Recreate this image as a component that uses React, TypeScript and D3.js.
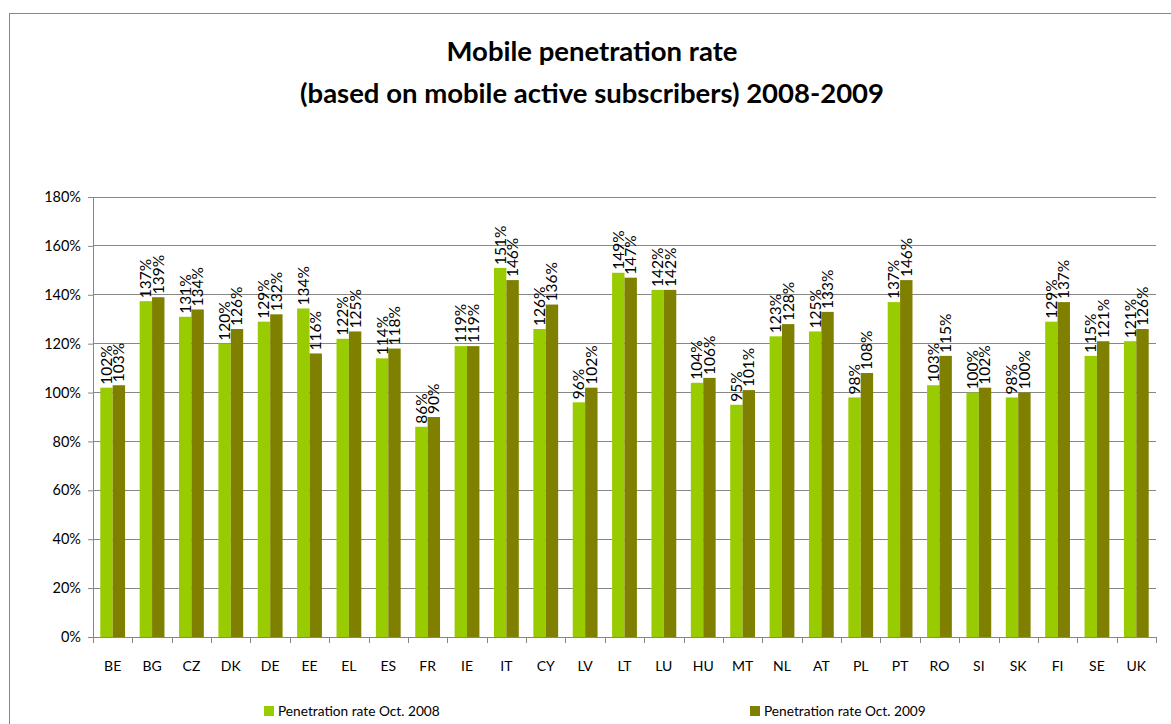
import React, { useEffect, useRef } from 'react'
import * as d3 from 'd3'

const countries: string[] = ['BE', 'BG', 'CZ', 'DK', 'DE', 'EE', 'EL', 'ES', 'FR', 'IE', 'IT', 'CY', 'LV', 'LT', 'LU', 'HU', 'MT', 'NL', 'AT', 'PL', 'PT', 'RO', 'SI', 'SK', 'FI', 'SE', 'UK']
const rate2008: number[] = [102, 137.4, 131, 120, 129, 134.4, 122, 114, 86, 119, 151, 126, 96, 149, 142, 104, 95, 123, 125, 98, 137, 103, 100, 98, 129, 115, 121]
const rate2009: number[] = [103, 139, 134, 126, 132, 116, 125, 118, 90, 119, 146, 136, 102, 147, 142, 106, 101, 128, 133, 108, 146, 115, 102, 100, 137, 121, 126]
const seriesNames: string[] = ['Penetration rate Oct. 2008', 'Penetration rate Oct. 2009']
const yTicks: number[] = [0, 20, 40, 60, 80, 100, 120, 140, 160, 180]

const colors = ['#99cc00', '#808000']
const font = 'Lato, "Noto Sans", sans-serif'

const W = 1171
const H = 724
const margin = { top: 197, left: 93, right: 15, bottom: 87 }

export default function App() {
    const ref = useRef<SVGSVGElement>(null)

    useEffect(() => {
        const svg = d3.select(ref.current)
        svg.selectAll('*').remove()

        const width = W - margin.left - margin.right
        const height = H - margin.top - margin.bottom

        // frame
        svg.append('rect')
            .attr('x', 9.5).attr('y', 13.5)
            .attr('width', W).attr('height', H)
            .attr('fill', 'white').attr('stroke', '#868686')

        // title
        const title = svg.append('text')
            .attr('x', 592).attr('text-anchor', 'middle')
            .attr('font-family', font).attr('font-weight', 'bold')
            .attr('font-size', 27.5).attr('fill', '#000')
        title.append('tspan').attr('x', 592).attr('y', 61).text('Mobile penetration rate')
        title.append('tspan').attr('x', 592).attr('y', 103).text('(based on mobile active subscribers) 2008-2009')

        const g = svg.append('g').attr('transform', `translate(${margin.left},${margin.top})`)

        const x = d3.scaleBand<string>().domain(countries).range([0, width])
        const inner = d3.scaleBand<number>().domain([0, 1])
            .range([x.bandwidth() * 0.185, x.bandwidth() * 0.815])
        const y = d3.scaleLinear().domain([0, 180]).range([height, 0])

        // gridlines
        g.selectAll('.grid').data(yTicks.filter(t => t > 0)).enter().append('line')
            .attr('x1', 0).attr('x2', width)
            .attr('y1', d => y(d)).attr('y2', d => y(d))
            .attr('stroke', '#868686').attr('stroke-width', 1)
            .attr('shape-rendering', 'crispEdges')

        // y axis
        const yAxis = g.append('g')
            .call(d3.axisLeft(y).tickValues(yTicks).tickFormat(d => `${d}%`).tickSize(5).tickPadding(7))
        yAxis.select('.domain').attr('stroke', '#868686')
        yAxis.selectAll('line').attr('stroke', '#868686')
        yAxis.selectAll('text').attr('font-family', font).attr('font-size', 14.5).attr('fill', '#000')

        // bars
        const data = countries.map((c, i) => ({ c, v: [rate2008[i], rate2009[i]] }))
        const groups = g.selectAll('.grp').data(data).enter().append('g')
            .attr('transform', d => `translate(${x(d.c)},0)`)

        groups.selectAll('rect').data(d => d.v.map((v, s) => ({ v, s }))).enter().append('rect')
            .attr('x', d => inner(d.s)!)
            .attr('width', inner.bandwidth())
            .attr('y', d => y(d.v))
            .attr('height', d => height - y(d.v))
            .attr('fill', d => colors[d.s])

        // data labels
        groups.selectAll('text').data(d => d.v.map((v, s) => ({ v, s }))).enter().append('text')
            .attr('transform', d => `translate(${inner(d.s)! + inner.bandwidth() / 2},${y(d.v) - 3}) rotate(-90)`)
            .attr('dy', '0.35em')
            .attr('font-family', font).attr('font-size', 15.5).attr('fill', '#000')
            .text(d => `${Math.round(d.v)}%`)

        // x axis
        const xAxis = g.append('g').attr('transform', `translate(0,${height})`)
        xAxis.append('line').attr('x1', 0).attr('x2', width).attr('y1', 0.5).attr('y2', 0.5)
            .attr('stroke', '#868686')
        xAxis.selectAll('.tk').data(d3.range(countries.length + 1)).enter().append('line')
            .attr('x1', i => Math.round(i * x.step()) + 0.5).attr('x2', i => Math.round(i * x.step()) + 0.5)
            .attr('y1', 0).attr('y2', 6).attr('stroke', '#868686')
        xAxis.selectAll('.lbl').data(countries).enter().append('text')
            .attr('x', d => x(d)! + x.bandwidth() / 2).attr('y', 34)
            .attr('text-anchor', 'middle')
            .attr('font-family', font).attr('font-size', 14).attr('fill', '#000')
            .text(d => d)

        // legend
        const legendX = [264, 750]
        const legend = svg.selectAll('.leg').data(seriesNames).enter().append('g')
            .attr('transform', (d, i) => `translate(${legendX[i]},706)`)
        legend.append('rect').attr('width', 10).attr('height', 10).attr('fill', (d, i) => colors[i])
        legend.append('text').attr('x', 14).attr('y', 5).attr('dy', '0.35em')
            .attr('font-family', font).attr('font-size', 13.7).attr('fill', '#000')
            .text(d => d)
    }, [])

    return <svg ref={ref} width={W} height={H} style={{ position: 'absolute', left: 0, top: 0 }} />
}
